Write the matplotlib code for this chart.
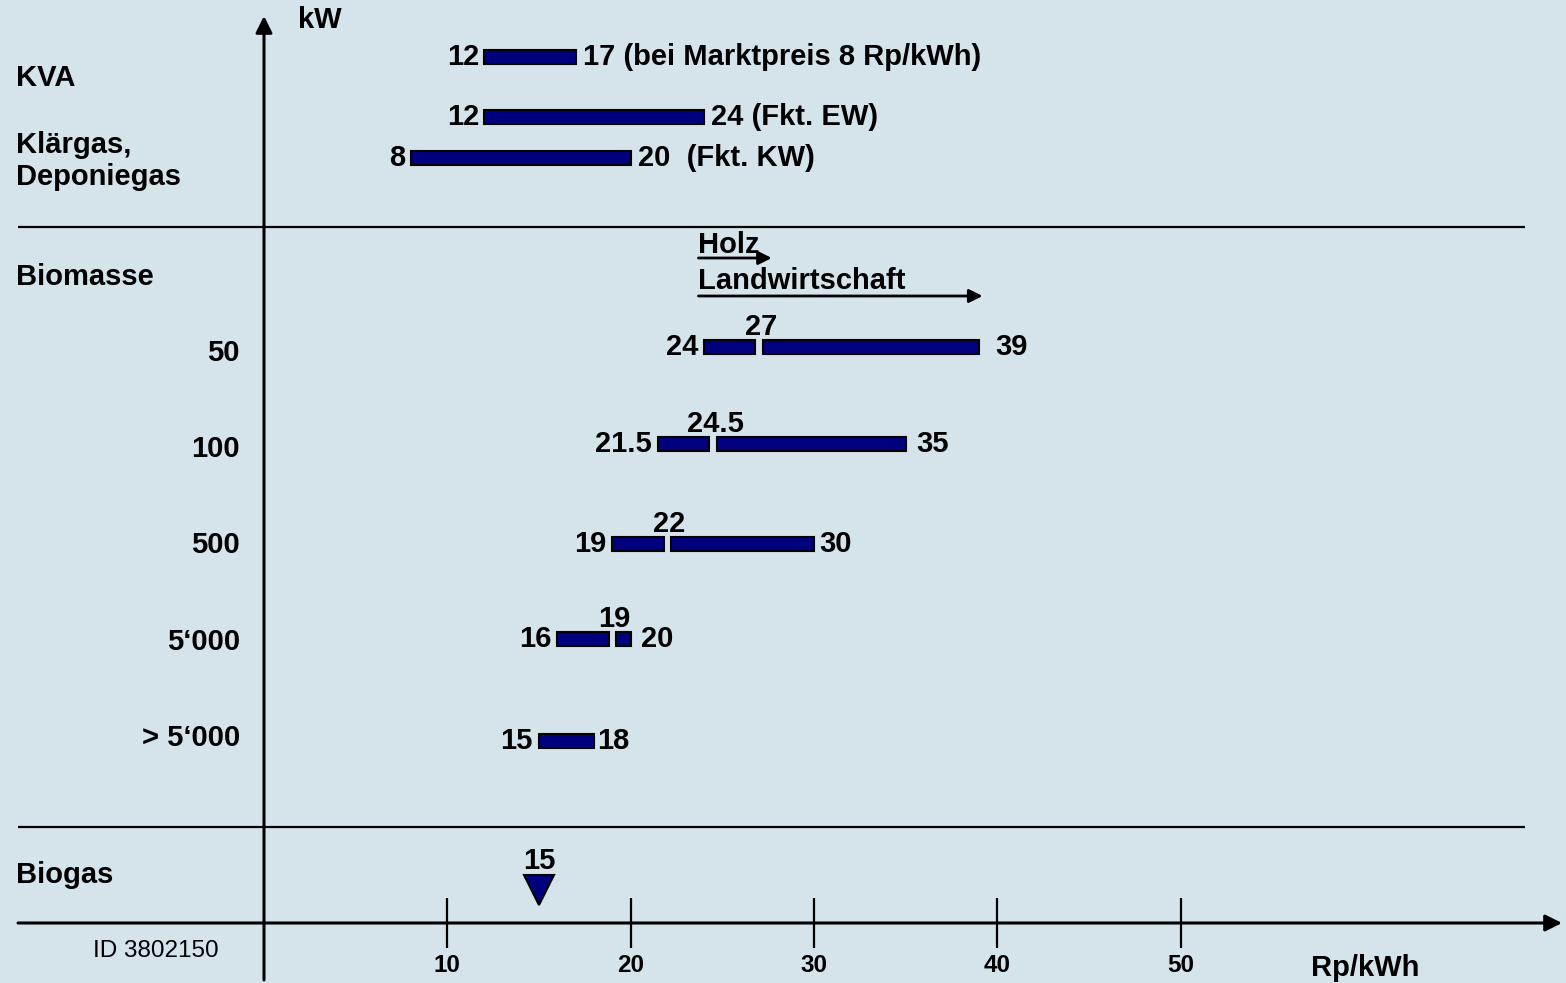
import matplotlib.pyplot as plt

plt.rcParams['font.family'] = ['Liberation Sans', 'DejaVu Sans']

# price ranges in Rp/kWh
top_rows = ['KVA', 'Fkt. EW', 'Fkt. KW']
top_lo = [12, 12, 8]
top_hi = [17, 24, 20]
top_right = ['17 (bei Marktpreis 8 Rp/kWh)', '24 (Fkt. EW)', '20  (Fkt. KW)']

bio_kw = ['50', '100', '500', '5‘000', '> 5‘000']
bio_lo = [24, 21.5, 19, 16, 15]
bio_mid = [27, 24.5, 22, 19, None]
bio_hi = [39, 35, 30, 20, 18]

holz_range = (23.7, 27.7)
landw_range = (23.7, 39.2)
biogas_price = 15
xticks = [10, 20, 30, 40, 50]

# layout: x in Rp/kWh, y in pixel rows from the top
W, H = 1566, 983
X0, PX = 264, 18.33
def xp(p):
    return (p - X0) / PX

top_y = [57, 117, 158]
bio_y = [347, 444, 544, 639, 741]
kw_y = [353, 449, 545, 642, 738]
hi_pad = [16, 11, 5, 10, 3]
BAR_H = 14
GAP = 0.2
NAVY = '#00007f'
BG = '#d5e3ea'

fig = plt.figure(figsize=(W / 100, H / 100), dpi=100, facecolor=BG)
ax = fig.add_axes([0, 0, 1, 1])
ax.set_facecolor(BG)
ax.set_xlim(xp(0), xp(W))
ax.set_ylim(H, 0)
ax.axis('off')

bold = dict(fontweight='bold', fontsize=21, color='black')

# axes with arrows
ax.annotate('', xy=(0, 16), xytext=(0, 980),
            arrowprops=dict(arrowstyle='-|>', color='black', lw=2.2,
                            mutation_scale=25, shrinkA=0, shrinkB=0))
ax.annotate('', xy=(xp(1562), 923), xytext=(xp(18), 923),
            arrowprops=dict(arrowstyle='-|>', color='black', lw=2.2,
                            mutation_scale=25, shrinkA=0, shrinkB=0))
ax.hlines([227, 827], xp(18), xp(1525), color='black', lw=1.6)
ax.vlines(xticks, 898, 948, color='black', lw=1.6)
for t in xticks:
    ax.text(t, 966, str(t), ha='center', va='center', fontsize=17.5, fontweight='bold')
ax.text(xp(1311), 968, 'Rp/kWh', ha='left', va='center', **bold)
ax.text(xp(298), 20, 'kW', ha='left', va='center', **bold)

# left group labels
ax.text(xp(16), 78, 'KVA', ha='left', va='center', **bold)
ax.text(xp(16), 161, 'Klärgas,\nDeponiegas', ha='left', va='center', linespacing=1.2, **bold)
ax.text(xp(16), 277, 'Biomasse', ha='left', va='center', **bold)
ax.text(xp(16), 875, 'Biogas', ha='left', va='center', **bold)
ax.text(xp(93), 951, 'ID 3802150', ha='left', va='center', fontsize=17.5)

# KVA / gas bars
ax.barh(top_y, [h - l for l, h in zip(top_lo, top_hi)], left=top_lo, height=BAR_H,
        color=NAVY, edgecolor='black', lw=1.5)
for y, lo, hi, lab in zip(top_y, top_lo, top_hi, top_right):
    ax.annotate(f'{lo:g}', (lo, y), xytext=(-5, 0), textcoords='offset pixels',
                ha='right', va='center', **bold)
    ax.annotate(lab, (hi, y), xytext=(7, 0), textcoords='offset pixels',
                ha='left', va='center', **bold)

# Holz / Landwirtschaft arrows
ax.text(xp(698), 245, 'Holz', ha='left', va='center', **bold)
ax.text(xp(698), 281, 'Landwirtschaft', ha='left', va='center', **bold)
for rng, y in [(holz_range, 258), (landw_range, 296)]:
    ax.annotate('', xy=(rng[1], y), xytext=(rng[0], y),
                arrowprops=dict(arrowstyle='-|>', color='black', lw=2,
                                mutation_scale=20, shrinkA=0, shrinkB=0))

# Biomasse bars, split at the middle value
for y, ky, kw, lo, mid, hi, pad in zip(bio_y, kw_y, bio_kw, bio_lo, bio_mid, bio_hi, hi_pad):
    ax.text(xp(240), ky, kw, ha='right', va='center', **bold)
    if mid is None:
        segs = [(lo, hi)]
    else:
        segs = [(lo, mid - GAP), (mid + GAP, hi)]
        ax.annotate(f'{mid:g}', (mid, y - BAR_H / 2), xytext=(2, -1),
                    textcoords='offset pixels', ha='center', va='bottom', **bold)
    ax.barh([y] * len(segs), [b - a for a, b in segs], left=[a for a, b in segs],
            height=BAR_H, color=NAVY, edgecolor='black', lw=1.5)
    ax.annotate(f'{lo:g}', (lo, y), xytext=(-6, 0), textcoords='offset pixels',
                ha='right', va='center', **bold)
    ax.annotate(f'{hi:g}', (hi, y), xytext=(pad, 0), textcoords='offset pixels',
                ha='left', va='center', **bold)

# Biogas marker
ax.plot([biogas_price], [890], marker='v', markersize=22, color=NAVY,
        markeredgecolor='black', markeredgewidth=1.5)
ax.text(biogas_price, 861, f'{biogas_price:g}', ha='center', va='center', **bold)

fig.savefig('out.png', dpi=100, facecolor=BG)
